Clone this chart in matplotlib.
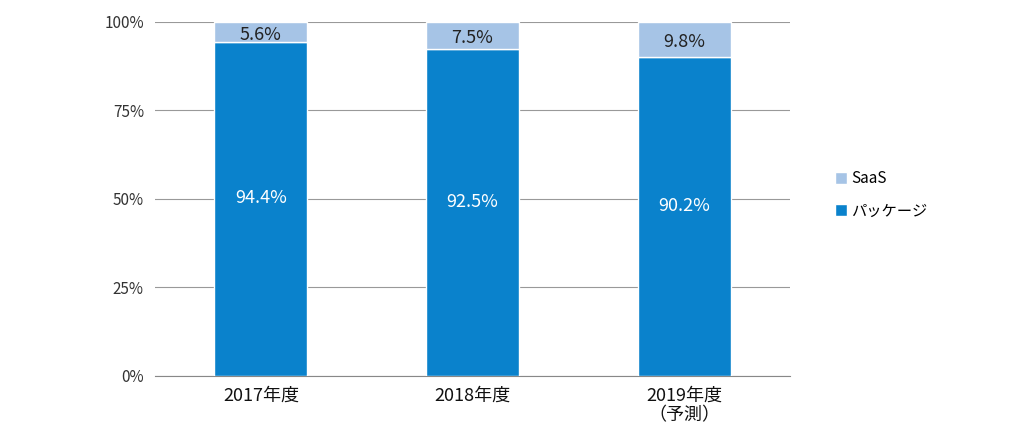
import matplotlib
matplotlib.use("Agg")
import matplotlib.pyplot as plt
from matplotlib.ticker import FixedLocator

plt.rcParams["font.family"] = ["Noto Sans CJK JP"]

categories = ["2017年度", "2018年度", "2019年度\n（予測）"]
package = [94.4, 92.5, 90.2]
saas = [5.6, 7.5, 9.8]
yticks = [0, 25, 50, 75, 100]

fig = plt.figure(figsize=(10.30, 4.38), dpi=100)
ax = fig.add_axes([0.1505, 0.1416, 0.767 - 0.1505, 0.9498 - 0.1416])
x = list(range(len(categories)))
dark = "#0a82cc"
light = "#a6c4e6"
b1 = ax.bar(x, package, width=0.44, color=dark, edgecolor="white", linewidth=1, label="パッケージ", zorder=3)
b2 = ax.bar(x, saas, bottom=package, width=0.44, color=light, edgecolor="white", linewidth=1, label="SaaS", zorder=3)
for xi, p, s in zip(x, package, saas):
    ax.text(xi, p / 2 + 3, f"{p:.1f}%", ha="center", va="center", color="white", fontsize=13, zorder=4)
    ax.text(xi, p + s / 2 - 0.8, f"{s:.1f}%", ha="center", va="center", color="#222222", fontsize=13, zorder=4)
ax.set_xlim(-0.5, 2.5)
ax.set_ylim(0, 100)
ax.yaxis.set_major_locator(FixedLocator(yticks))
ax.set_yticklabels([f"{t}%" for t in yticks], fontsize=11, color="#333333")
ax.set_xticks(x)
ax.set_xticklabels(categories, fontsize=13, color="#111111", linespacing=1.1)
ax.grid(axis="y", color="#999999", linewidth=0.8, zorder=0)
for s in ["top", "right", "left"]:
    ax.spines[s].set_visible(False)
ax.spines["bottom"].set_color("#888888")
ax.tick_params(axis="both", length=0, pad=8)
handles = [b2, b1]
fig.legend(handles, ["SaaS", "パッケージ"], loc="center left", bbox_to_anchor=(0.797, 0.555),
           frameon=False, fontsize=11, handlelength=0.8, handleheight=0.8, handletextpad=0.3, labelspacing=1.0)
fig.savefig("out.png", dpi=100, facecolor="white")
